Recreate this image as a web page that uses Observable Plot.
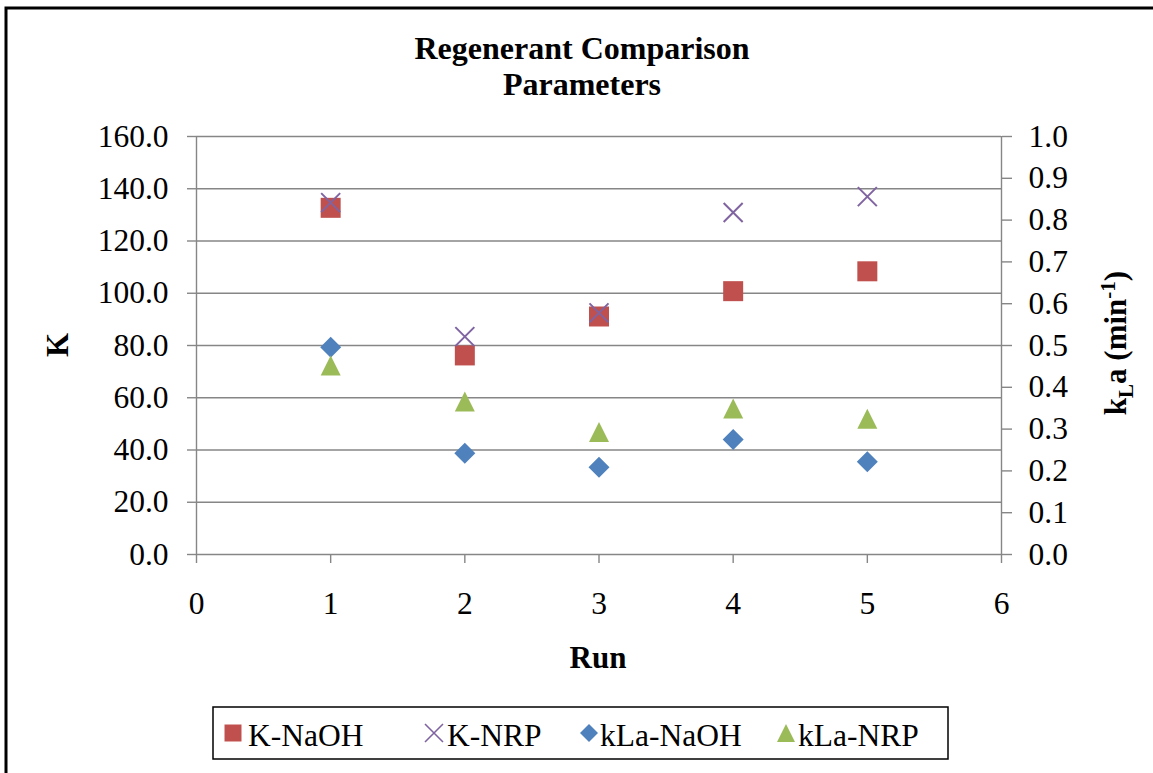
<!DOCTYPE html>
<html>
<head>
<meta charset="utf-8">
<script src="https://cdn.jsdelivr.net/npm/d3@7"></script>
<script src="https://cdn.jsdelivr.net/npm/@observablehq/plot@0.6"></script>
<style>
  html, body { margin: 0; padding: 0; background: #fff; }
  #chart { position: relative; width: 1153px; height: 773px; overflow: hidden; }
</style>
</head>
<body>
<div id="chart"></div>
<script>
// Runs on the x axis
const runs = [1, 2, 3, 4, 5];
// K values (left axis)
const kNaOH = [132.7, 76.2, 91.1, 100.8, 108.4];
const kNRP = [134.7, 83.4, 92.5, 130.9, 137.0];
// kLa values in min^-1 (right axis)
const kLaNaOH = [0.496, 0.242, 0.209, 0.275, 0.222];
const kLaNRP = [0.452, 0.366, 0.293, 0.349, 0.325];

// Axis ticks
const xTicks = [0, 1, 2, 3, 4, 5, 6];
const leftTicks = [0, 20, 40, 60, 80, 100, 120, 140, 160];
const rightTicks = [0, 0.1, 0.2, 0.3, 0.4, 0.5, 0.6, 0.7, 0.8, 0.9, 1.0];

const seriesNames = ["K-NaOH", "K-NRP", "kLa-NaOH", "kLa-NRP"];
const seriesColors = ["#C0504D", "#8064A2", "#4F81BD", "#9BBB59"];

// The right axis (0–1) shares the left axis (0–160) through a fixed ratio
const leftMax = 160, rightMax = 1.0;
const toLeft = v => v * leftMax / rightMax;

const gridColor = "#868686";
const serif = "'Liberation Serif', 'Times New Roman', serif";

// Marker shapes, sized by Plot's r
const rad = size => Math.sqrt(size / Math.PI);
const squareSym = { draw(c, s) { const r = rad(s); c.rect(-r, -r, 2 * r, 2 * r); } };
const crossSym = { draw(c, s) { const r = rad(s); c.moveTo(-r, -r); c.lineTo(r, r); c.moveTo(r, -r); c.lineTo(-r, r); } };
const diamondSym = { draw(c, s) { const r = rad(s); c.moveTo(0, -r); c.lineTo(r, 0); c.lineTo(0, r); c.lineTo(-r, 0); c.closePath(); } };
const triangleSym = { draw(c, s) { const r = rad(s); c.moveTo(0, -r); c.lineTo(r, r); c.lineTo(-r, r); c.closePath(); } };

const rows = (ys, f = v => v) => runs.map((x, i) => ({ x, y: f(ys[i]) }));

const svg = Plot.plot({
  width: 1153,
  height: 773,
  marginTop: 136,
  marginBottom: 219,
  marginLeft: 196,
  marginRight: 152,
  x: { domain: [0, 6] },
  y: { domain: [0, leftMax] },
  style: { fontFamily: serif, fontSize: "31.5px", color: "black", background: "white", overflow: "visible" },
  marks: [
    Plot.gridY(leftTicks, { stroke: gridColor, strokeOpacity: 1, strokeWidth: 1.4 }),
    Plot.ruleX([0, 6], { stroke: gridColor, strokeWidth: 1.4 }),
    Plot.axisY(leftTicks, { anchor: "left", tickSize: 9, tickPadding: 19, stroke: gridColor, strokeWidth: 1.4, tickFormat: d => d.toFixed(1), label: null }),
    Plot.axisY(rightTicks.map(toLeft), { anchor: "right", tickSize: 10, tickPadding: 17, stroke: gridColor, strokeWidth: 1.4, tickFormat: d => (d * rightMax / leftMax).toFixed(1), label: null }),
    Plot.axisX(xTicks, { anchor: "bottom", tickSize: 9, tickPadding: 28, stroke: gridColor, strokeWidth: 1.4, tickFormat: d => String(d), label: null }),
    Plot.dot(rows(kNaOH), { x: "x", y: "y", symbol: squareSym, r: 10, fill: seriesColors[0], stroke: "none" }),
    Plot.dot(rows(kNRP), { x: "x", y: "y", symbol: crossSym, r: 9.5, fill: "none", stroke: seriesColors[1], strokeWidth: 2 }),
    Plot.dot(rows(kLaNaOH, toLeft), { x: "x", y: "y", symbol: diamondSym, r: 10.5, fill: seriesColors[2], stroke: "none" }),
    Plot.dot(rows(kLaNRP, toLeft), { x: "x", y: "y", symbol: triangleSym, r: 10, fill: seriesColors[3], stroke: "none" })
  ]
});

const g = d3.select(svg).append("g").attr("font-family", serif).attr("fill", "black");

// Outer frame
g.append("rect").attr("x", 6).attr("y", 8).attr("width", 1170).attr("height", 800)
  .attr("fill", "none").attr("stroke", "black").attr("stroke-width", 3);

// Title
const title = g.append("text").attr("text-anchor", "middle").attr("font-weight", "bold").attr("font-size", 32);
title.append("tspan").attr("x", 582).attr("y", 59).text("Regenerant Comparison");
title.append("tspan").attr("x", 582).attr("y", 95).text("Parameters");

// Axis titles
g.append("text").attr("transform", "translate(68,345) rotate(-90)").attr("text-anchor", "middle")
  .attr("font-weight", "bold").attr("font-size", 31).text("K");
g.append("text").attr("x", 598).attr("y", 668).attr("text-anchor", "middle")
  .attr("font-weight", "bold").attr("font-size", 31).text("Run");
const rl = g.append("text").attr("transform", "translate(1126,343) rotate(-90)").attr("text-anchor", "middle")
  .attr("font-weight", "bold").attr("font-size", 31);
rl.append("tspan").text("k");
rl.append("tspan").attr("dy", 7).attr("font-size", 21).text("L");
rl.append("tspan").attr("dy", -7).text("a (min");
rl.append("tspan").attr("dy", -11).attr("font-size", 21).text("-1");
rl.append("tspan").attr("dy", 11).text(")");

// Legend
const lg = g.append("g");
lg.append("rect").attr("x", 213).attr("y", 707).attr("width", 735).attr("height", 52)
  .attr("fill", "white").attr("stroke", "black").attr("stroke-width", 1.5);
const legendSyms = [squareSym, crossSym, diamondSym, triangleSym];
const legendR = [8.5, 9, 9, 9];
const legendMarkX = [233, 434, 589, 786];
const legendTextX = [248, 447, 600, 798];
seriesNames.forEach((name, i) => {
  const r = legendR[i];
  const path = d3.symbol(legendSyms[i], Math.PI * r * r)();
  const p = lg.append("path").attr("d", path).attr("transform", `translate(${legendMarkX[i]},733)`);
  if (i === 1) p.attr("fill", "none").attr("stroke", seriesColors[i]).attr("stroke-width", 1.6);
  else p.attr("fill", seriesColors[i]);
  lg.append("text").attr("x", legendTextX[i]).attr("y", 746).attr("text-anchor", "start")
    .attr("font-size", 31.5).text(name);
});

document.getElementById("chart").appendChild(svg);
</script>
</body>
</html>
